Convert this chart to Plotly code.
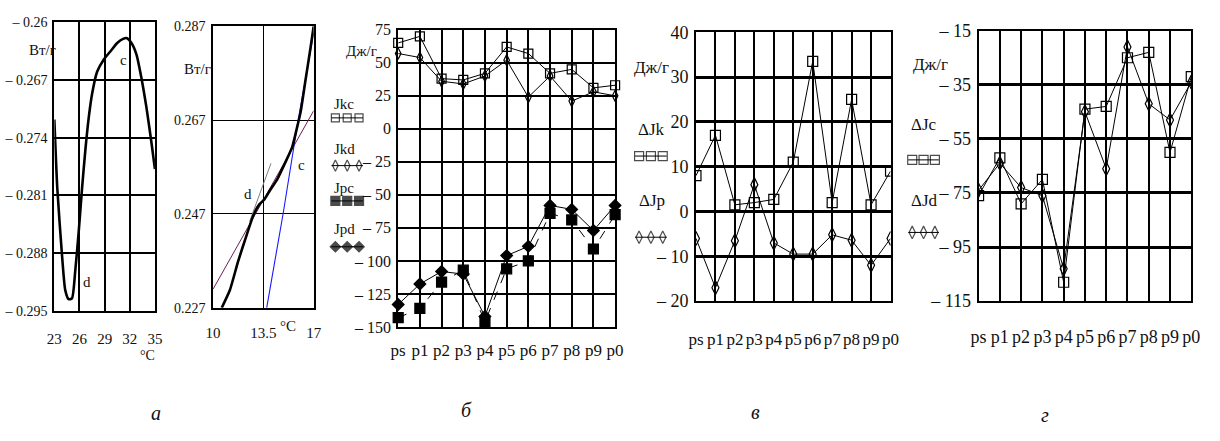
import numpy as np
import plotly.graph_objects as go

W, H = 1220, 441
FONT = "Liberation Serif, Times New Roman, serif"
INK = "#111111"

# ---------------- panel а: heat flow vs temperature ----------------
temp_a = [23.0, 23.35, 23.94, 24.3, 24.7, 25.1, 25.5, 25.9, 26.3, 26.7, 27.1, 27.5,
          28.1, 28.9, 29.7, 30.5, 31.2, 31.6, 32.2, 32.8, 33.4, 34.0, 34.6, 35.0]
flow_a = [-0.2718, -0.2801, -0.2886, -0.2925, -0.2936, -0.2935, -0.2901, -0.2855,
          -0.2802, -0.2755, -0.2716, -0.2687, -0.2660, -0.2645, -0.2635, -0.2625,
          -0.2620, -0.2619, -0.2625, -0.2639, -0.2668, -0.2704, -0.2747, -0.2778]
ticks_a_x = [23, 26, 29, 32, 35]
ticks_a_y = [-0.26, -0.267, -0.274, -0.281, -0.288, -0.295]

# ---------------- small panel: curve with tangents ----------------
temp_b = [10.6, 11.17, 11.74, 12.31, 12.81, 13.23, 13.57, 13.91, 14.48, 15.06,
          15.51, 15.81, 16.09, 16.43, 16.77, 17.0]
flow_b = [0.227, 0.2308, 0.2369, 0.2423, 0.2468, 0.2491, 0.2501, 0.2518, 0.2545,
          0.2582, 0.2613, 0.2650, 0.2687, 0.2755, 0.2822, 0.2870]
tan_c_t = [13.73, 14.87, 15.92, 17.0]
tan_c_f = [0.227, 0.247, 0.267, 0.2855]
tan_cd_t = [10.0, 17.0]
tan_cd_f = [0.231, 0.269]
tan_d_t = [12.54, 14.03]
tan_d_f = [0.2454, 0.2578]
ticks_b_x = [10, 13.5, 17]
ticks_b_y = [0.227, 0.247, 0.267, 0.287]

# ---------------- category panels ----------------
cats = ["ps", "p1", "p2", "p3", "p4", "p5", "p6", "p7", "p8", "p9", "p0"]

Jkc = [65, 70, 38, 37, 42, 62, 57, 42, 45, 31, 33]
Jkd = [57, 54, 36, 34, 40, 52, 24, 40, 21, 28, 25]
Jpc = [-143, -136, -116, -107, -146, -106, -100, -64, -69, -91, -65]
Jpd = [-133, -117.5, -108, -110, -142, -96, -89, -58, -61, -77, -58]
ticks_J = [75, 50, 25, 0, -25, -50, -75, -100, -125, -150]

dJk = [8, 17, 1.5, 2, 2.7, 11, 33.5, 2, 25, 1.5, 9]
dJp = [-6, -17, -6.5, 6, -7, -9.5, -9.5, -5.2, -6.4, -12, -6]
ticks_dk = [40, 30, 20, 10, 0, -10, -20]

dJc = [-76, -62, -79, -70, -108, -44, -43, -25, -23, -60, -32]
dJd = [-74, -64, -73, -76, -103, -45, -66, -21, -42, -48, -34]
ticks_dc = [-15, -35, -55, -75, -95, -115]


def num_text(v):
    s = f"{abs(v):g}"
    return ("\u2013 " + s) if v < 0 else s


def xdom(x0, x1):
    return [x0 / W, x1 / W]


def ydom(top, bottom):
    return [1 - bottom / H, 1 - top / H]


fig = go.Figure()


def axis_pair(n, xd, yd, xr, yr, xt, yt, xgrid=1.5, ygrid=2.0, frame=2.0,
              xfs=14, yfs=14, xstand=4, ystand=2, xcat=False, ytext=None, xtext=None):
    sx = "" if n == 1 else str(n)
    xa = dict(domain=xd, range=xr, showline=True, mirror=True, linecolor="black",
              linewidth=frame, showgrid=True, gridcolor="black", gridwidth=xgrid,
              zeroline=False, ticks="", tickangle=0,
              tickfont=dict(family=FONT, size=xfs, color=INK),
              ticklabelstandoff=xstand, anchor="y" + sx, fixedrange=True)
    if xcat:
        xa.update(type="category", categoryorder="array", categoryarray=cats,
                  tickmode="array", tickvals=cats, ticktext=cats)
    else:
        xa.update(tickmode="array", tickvals=xt,
                  ticktext=xtext if xtext else [f"{v:g}" for v in xt])
    ya = dict(domain=yd, range=yr, showline=True, mirror=True, linecolor="black",
              linewidth=frame, showgrid=True, gridcolor="black", gridwidth=ygrid,
              zeroline=False, ticks="", tickfont=dict(family=FONT, size=yfs, color=INK),
              tickmode="array", tickvals=yt,
              ticktext=ytext if ytext else [num_text(v) for v in yt],
              ticklabelstandoff=ystand, anchor="x" + sx, fixedrange=True)
    fig.update_layout(**{"xaxis" + sx: xa, "yaxis" + sx: ya})


# panel а
axis_pair(1, xdom(47, 149), ydom(13, 315), [23, 35], [-0.295, -0.26],
          ticks_a_x, ticks_a_y, xgrid=1.8, ygrid=1.8, xfs=15, yfs=14, xstand=13, ystand=2)
fig.add_trace(go.Scatter(x=temp_a, y=flow_a, mode="lines", xaxis="x", yaxis="y",
                         line=dict(color="black", width=2.6, shape="spline", smoothing=0.6),
                         showlegend=False))

# small temperature panel with tangents
axis_pair(2, xdom(208, 310), ydom(17, 312), [10, 17], [0.227, 0.287],
          ticks_b_x, ticks_b_y, xgrid=1.3, ygrid=1.3, frame=1.6, xfs=15, yfs=14,
          xstand=10, ystand=3, ytext=[f"{v:.3f}" for v in ticks_b_y])
fig.add_trace(go.Scatter(x=tan_cd_t, y=tan_cd_f, mode="lines", xaxis="x2", yaxis="y2",
                         line=dict(color="#6e1f55", width=1), showlegend=False))
fig.add_trace(go.Scatter(x=tan_d_t, y=tan_d_f, mode="lines", xaxis="x2", yaxis="y2",
                         line=dict(color="#7f7f7f", width=1), showlegend=False))
fig.add_trace(go.Scatter(x=tan_c_t, y=tan_c_f, mode="lines", xaxis="x2", yaxis="y2",
                         line=dict(color="#1a1aff", width=1.1), showlegend=False))
fig.add_trace(go.Scatter(x=temp_b, y=flow_b, mode="lines", xaxis="x2", yaxis="y2",
                         line=dict(color="black", width=2.6, shape="spline", smoothing=0.5),
                         showlegend=False))

# panel б: J values
axis_pair(3, xdom(395.7, 615.7), ydom(20.7, 332), [0, 10], [-150, 75],
          None, ticks_J, xgrid=1.6, ygrid=2.0, xfs=17, yfs=16, xstand=7, ystand=2, xcat=True)
series3 = [
    (Jkc, "square-open", 9, "solid"),
    (Jkd, "diamond-tall-open", 8, "solid"),
    (Jpc, "square", 10, "dash"),
    (Jpd, "diamond", 9, "solid"),
]
for vals, sym, size, dash in series3:
    fig.add_trace(go.Scatter(x=cats, y=vals, mode="lines+markers", xaxis="x3", yaxis="y3",
                             line=dict(color="black", width=1, dash=dash),
                             marker=dict(symbol=sym, size=size, color="black",
                                         line=dict(color="black", width=1.2)),
                             cliponaxis=False, showlegend=False))

# panel в: ΔJk, ΔJp
axis_pair(4, xdom(697.7, 895), ydom(23.3, 305), [0, 10], [-20, 40],
          None, ticks_dk, xgrid=1.6, ygrid=2.6, xfs=17, yfs=18, xstand=21, ystand=2, xcat=True)
for vals, sym, size in [(dJk, "square-open", 10), (dJp, "diamond-tall-open", 10)]:
    fig.add_trace(go.Scatter(x=cats, y=vals, mode="lines+markers", xaxis="x4", yaxis="y4",
                             line=dict(color="black", width=1),
                             marker=dict(symbol=sym, size=size, color="black",
                                         line=dict(color="black", width=1.2)),
                             showlegend=False))

# panel г: ΔJc, ΔJd
axis_pair(5, xdom(984.3, 1200), ydom(21.7, 305), [0, 10], [-115, -15],
          None, ticks_dc, xgrid=1.6, ygrid=2.6, xfs=18, yfs=18, xstand=18, ystand=2, xcat=True)
for vals, sym, size in [(dJc, "square-open", 10), (dJd, "diamond-tall-open", 10)]:
    fig.add_trace(go.Scatter(x=cats, y=vals, mode="lines+markers", xaxis="x5", yaxis="y5",
                             line=dict(color="black", width=1),
                             marker=dict(symbol=sym, size=size, color="black",
                                         line=dict(color="black", width=1.2)),
                             showlegend=False))

# overlay axis in pixel units for the legend keys
fig.update_layout(
    xaxis6=dict(domain=[0, 1], range=[0, W], visible=False, anchor="y6", fixedrange=True),
    yaxis6=dict(domain=[0, 1], range=[H, 0], visible=False, anchor="x6", fixedrange=True),
)


def key(x0, x1, y, sym, size, dash="solid"):
    xs = list(np.linspace(x0 + 4, x1 - 4, 3))
    fig.add_trace(go.Scatter(x=[x0] + xs + [x1], y=[y] * 5, mode="lines+markers",
                             xaxis="x6", yaxis="y6",
                             line=dict(color="black", width=1, dash=dash),
                             marker=dict(symbol=sym, size=[0] + [size] * 3 + [0], color="black",
                                         line=dict(color="black", width=1.2)),
                             showlegend=False, hoverinfo="skip"))


key(328, 360, 113, "square-open", 8)
key(328, 360, 163, "diamond-tall-open", 8)
key(328, 360, 200, "square", 9)
key(328, 360, 248, "diamond", 8)
key(636, 668, 153, "square-open", 9)
key(636, 668, 238, "diamond-tall-open", 9)
key(913, 944, 157, "square-open", 9)
key(913, 944, 233, "diamond-tall-open", 9)

annots = [
    # panel а
    ("Вт/г", 35, 42, 15),
    ("c", 117, 52, 15),
    ("d", 80, 285, 15),
    ("°C", 141, 362, 14),
    # small temperature panel
    ("Вт/г", 192, 62, 15),
    ("d", 243, 193, 15),
    ("c", 298, 162, 15),
    ("°C", 284, 331, 15),
    # panel б
    ("Дж/г", 358, 43, 15),
    ("Jkc", 341, 98, 15),
    ("Jkd", 341, 146, 15),
    ("Jpc", 341, 186, 15),
    ("Jpd", 341, 229, 15),
    # panel в
    ("Дж/г", 653, 60, 17),
    ("ΔJk", 653, 125, 17),
    ("ΔJp", 653, 200, 17),
    # panel г
    ("Дж/г", 936, 57, 17),
    ("ΔJc", 929, 120, 17),
    ("ΔJd", 929, 200, 17),
]
for text, x, y, size in annots:
    fig.add_annotation(text=text, x=x / W, y=1 - y / H, xref="paper", yref="paper",
                       xanchor="center", yanchor="middle", showarrow=False,
                       font=dict(family=FONT, size=size, color=INK))

# panel captions
for text, x, y in [("а", 150, 422), ("б", 465, 419), ("в", 758, 421), ("г", 1052, 424)]:
    fig.add_annotation(text=f"<i>{text}</i>", x=x / W, y=1 - y / H, xref="paper",
                       yref="paper", xanchor="center", yanchor="middle", showarrow=False,
                       font=dict(family=FONT, size=20, color=INK))

fig.update_layout(width=W, height=H, margin=dict(l=0, r=0, t=0, b=0),
                  paper_bgcolor="white", plot_bgcolor="rgba(0,0,0,0)",
                  showlegend=False, font=dict(family=FONT, color=INK))

fig.write_html("out.html", include_plotlyjs=True, config={"displayModeBar": False})
